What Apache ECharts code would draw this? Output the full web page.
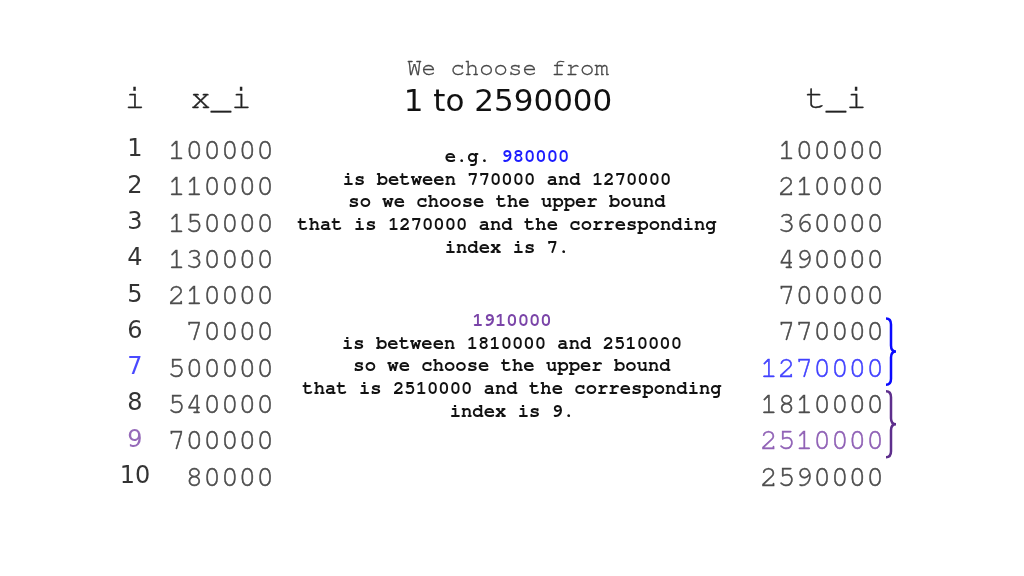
<!DOCTYPE html>
<html>
<head>
<meta charset="utf-8">
<script src="https://cdn.jsdelivr.net/npm/echarts@6/dist/echarts.min.js"></script>
<style>
  html, body { margin: 0; padding: 0; background: #fff; }
  #main { width: 1024px; height: 576px; }
</style>
</head>
<body>
<div id="main"></div>
<script>
// table columns
var indices = [1, 2, 3, 4, 5, 6, 7, 8, 9, 10];
var xValues = [100000, 110000, 150000, 130000, 210000, 70000, 500000, 540000, 700000, 80000];
var tValues = [100000, 210000, 360000, 490000, 700000, 770000, 1270000, 1810000, 2510000, 2590000];
var leftHeaders = ['i', 'x_i'];
var rightHeaders = ['t_i'];

// worked examples: picked number, interval it falls in, resulting index
var examples = [
  { pick: 980000, lower: 770000, upper: 1270000, index: 7 },
  { pick: 1910000, lower: 1810000, upper: 2510000, index: 9 }
];
var exampleColors = ['#1c1cff', '#7a44a8'];
var braceColors = ['#0a0aff', '#5e2f8c'];

var MONO = 'FreeMono';
var SANS = 'DejaVu Sans';
var INK = '#2a2a2a';

function colorForIndex(idx) {
  for (var k = 0; k < examples.length; k++) {
    if (examples[k].index === idx) return exampleColors[k];
  }
  return null;
}
function colorForT(val) {
  for (var k = 0; k < examples.length; k++) {
    if (examples[k].upper === val) return exampleColors[k];
  }
  return null;
}

var indexData = indices.map(function (d, i) {
  return { value: [0, i, d], label: { color: colorForIndex(d) || '#000' } };
});
var xData = xValues.map(function (d, i) {
  return [1, i, d];
});
var tData = tValues.map(function (d, i) {
  var c = colorForT(d) || INK;
  return { value: [0, i, d], label: { color: c, textBorderColor: c } };
});
var braceData = examples.map(function (e, k) {
  return [0, tValues.indexOf(e.lower), tValues.indexOf(e.upper), k];
});

function exampleText(e, tag, prefix) {
  return prefix + '{' + tag + '|' + e.pick + '}\n' +
    'is between ' + e.lower + ' and ' + e.upper + '\n' +
    'so we choose the upper bound\n' +
    'that is ' + e.upper + ' and the corresponding\n' +
    'index is ' + e.index + '.';
}

var blockStyle = {
  fontFamily: MONO,
  fontWeight: 'bold',
  fontSize: 18.9,
  lineHeight: 22.7,
  color: '#111',
  rich: {
    b: { fontFamily: MONO, fontWeight: 'bold', fontSize: 18.9, lineHeight: 22.7, color: exampleColors[0] },
    p: { fontFamily: MONO, fontWeight: 'bold', fontSize: 18.9, lineHeight: 22.7, color: exampleColors[1] }
  }
};

var cellLabel = function (font, size, offsetX) {
  return {
    show: true,
    position: 'inside',
    align: offsetX ? 'right' : 'center',
    offset: [offsetX, 0],
    fontFamily: font,
    fontSize: size,
    formatter: function (p) { return String(p.value[2]); }
  };
};

var chart = echarts.init(document.getElementById('main'));

var option = {
  backgroundColor: '#fff',
  animation: false,
  title: [
    {
      text: 'We choose from',
      subtext: '1 to ' + tValues[tValues.length - 1],
      left: 508,
      top: 56,
      textAlign: 'center',
      padding: 0,
      itemGap: 7,
      textStyle: { fontFamily: MONO, fontWeight: 'normal', fontSize: 24, color: '#444', textBorderColor: '#444', textBorderWidth: 0.3 },
      subtextStyle: { fontFamily: SANS, fontSize: 31, color: '#111' }
    },
    {
      text: exampleText(examples[0], 'b', 'e.g. '),
      left: 507,
      top: 145,
      textAlign: 'center',
      padding: 0,
      textStyle: blockStyle
    },
    {
      text: exampleText(examples[1], 'p', ''),
      left: 512,
      top: 309,
      textAlign: 'center',
      padding: 0,
      textStyle: blockStyle
    }
  ],
  grid: [
    { left: 92, width: 172, top: 132, height: 363 },
    { left: 788, width: 96, top: 132, height: 363 }
  ],
  xAxis: [
    {
      gridIndex: 0, type: 'category', position: 'top', data: leftHeaders,
      axisLine: { show: false }, axisTick: { show: false }, splitLine: { show: false },
      axisLabel: { fontFamily: MONO, fontSize: 34, color: '#222', textBorderColor: '#222', textBorderWidth: 0.4, margin: 17 }
    },
    {
      gridIndex: 1, type: 'category', position: 'top', data: rightHeaders,
      axisLine: { show: false }, axisTick: { show: false }, splitLine: { show: false },
      axisLabel: { fontFamily: MONO, fontSize: 34, color: '#222', textBorderColor: '#222', textBorderWidth: 0.4, margin: 17 }
    }
  ],
  yAxis: [
    {
      gridIndex: 0, type: 'category', inverse: true, data: indices,
      axisLine: { show: false }, axisTick: { show: false }, axisLabel: { show: false }, splitLine: { show: false }
    },
    {
      gridIndex: 1, type: 'category', inverse: true, data: indices,
      axisLine: { show: false }, axisTick: { show: false }, axisLabel: { show: false }, splitLine: { show: false }
    }
  ],
  series: [
    {
      type: 'scatter', xAxisIndex: 0, yAxisIndex: 0, silent: true,
      symbolSize: 1, itemStyle: { color: 'rgba(0,0,0,0)' },
      label: cellLabel(SANS, 24, 0),
      data: indexData
    },
    {
      type: 'scatter', xAxisIndex: 0, yAxisIndex: 0, silent: true,
      symbolSize: 1, itemStyle: { color: 'rgba(0,0,0,0)' },
      label: Object.assign(cellLabel(MONO, 29.5, 53), { color: INK, textBorderColor: INK, textBorderWidth: 0.5 }),
      data: xData
    },
    {
      type: 'scatter', xAxisIndex: 1, yAxisIndex: 1, silent: true,
      symbolSize: 1, itemStyle: { color: 'rgba(0,0,0,0)' },
      label: Object.assign(cellLabel(MONO, 29.5, 48), { textBorderWidth: 0.5 }),
      data: tData
    },
    {
      type: 'custom', xAxisIndex: 1, yAxisIndex: 1, silent: true,
      data: braceData,
      renderItem: function (params, api) {
        var band = api.size([1, 1]);
        var p1 = api.coord([api.value(0), api.value(1)]);
        var p2 = api.coord([api.value(0), api.value(2)]);
        var x0 = p1[0] + band[0] / 2 + 2;
        var top = p1[1] - band[1] * 0.36;
        var bottom = p2[1] + band[1] * 0.46;
        var mid = (top + bottom) / 2;
        var x1 = x0 + 5, x2 = x0 + 10, r = 6;
        var d = 'M' + x0 + ' ' + top +
          ' Q' + x1 + ' ' + top + ' ' + x1 + ' ' + (top + r) +
          ' L' + x1 + ' ' + (mid - r) +
          ' Q' + x1 + ' ' + mid + ' ' + x2 + ' ' + mid +
          ' Q' + x1 + ' ' + mid + ' ' + x1 + ' ' + (mid + r) +
          ' L' + x1 + ' ' + (bottom - r) +
          ' Q' + x1 + ' ' + bottom + ' ' + x0 + ' ' + bottom;
        return {
          type: 'path',
          shape: { pathData: d },
          style: { fill: null, stroke: braceColors[api.value(3)], lineWidth: 2.5 }
        };
      }
    }
  ]
};

chart.setOption(option);
window.addEventListener('resize', function () {
  chart.resize();
});
</script>
</body>
</html>
